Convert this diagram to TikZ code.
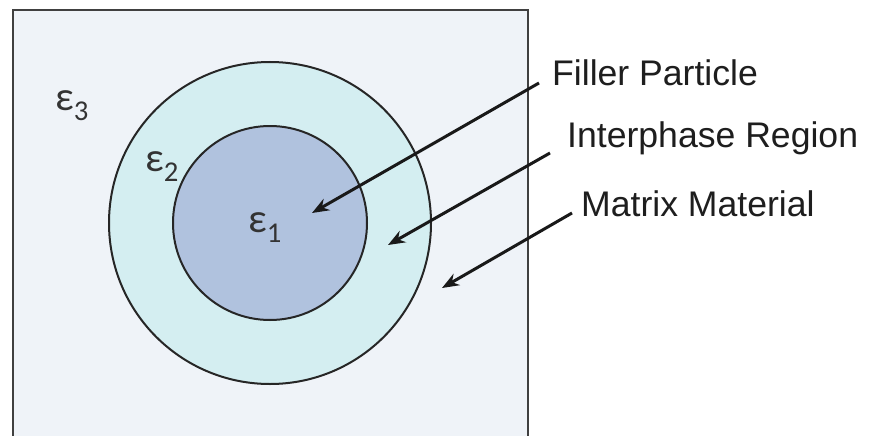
\documentclass[tikz,border=0pt]{standalone}
\usepackage{fontspec}
\setmainfont{Liberation Sans}
\newfontfamily\epsfont{Carlito}
\usetikzlibrary{arrows.meta}
\definecolor{bgmatrix}{RGB}{239,243,248}
\definecolor{interph}{RGB}{212,238,241}
\definecolor{filler}{RGB}{176,194,222}
\definecolor{textcol}{RGB}{30,30,30}
\tikzset{
  region/.style={draw=black!85, line width=2pt},
  lbl/.style={anchor=west, inner sep=0pt, font=\fontsize{35.6}{40}\selectfont, text=textcol},
  eps/.style={inner sep=0pt, font=\epsfont\fontsize{41}{44}\selectfont, text=black!80},
  pointer/.style={-{Stealth[length=17pt,width=13pt]}, line width=3pt, black!90}
}
\begin{document}
\begin{tikzpicture}[x=1pt,y=-1pt]
\useasboundingbox (0,0) rectangle (870,436);
\clip (0,0) rectangle (870,436);
\fill[white] (0,0) rectangle (870,436);
\node[draw=black!75, line width=2pt, fill=bgmatrix, minimum width=515pt, minimum height=470pt, anchor=north west, inner sep=0pt] (box) at (12,9) {};
\node[region, circle, fill=interph, minimum size=322pt, inner sep=0pt] (outer) at (270,223) {};
\node[region, circle, fill=filler, minimum size=194pt, inner sep=0pt] (inner) at (270,223) {};
\node[eps] (e3) at (72,106) {ε\textsubscript{3}};
\node[eps] (e2) at (162,167) {ε\textsubscript{2}};
\node[eps] (e1) at (265,228) {ε\textsubscript{1}};
\node[lbl] (fp) at (552,73) {Filler Particle};
\node[lbl] (ir) at (567,138) {Interphase Region};
\node[lbl] (mm) at (581,204) {Matrix Material};
\coordinate (fps) at (539,83);
\coordinate (fpt) at (312,213);
\coordinate (irs) at (550,153);
\coordinate (irt) at (388,245);
\coordinate (mms) at (572,213);
\coordinate (mmt) at (442,288);
\draw[pointer] (fps) -- (fpt);
\draw[pointer] (irs) -- (irt);
\draw[pointer] (mms) -- (mmt);
\end{tikzpicture}
\end{document}
